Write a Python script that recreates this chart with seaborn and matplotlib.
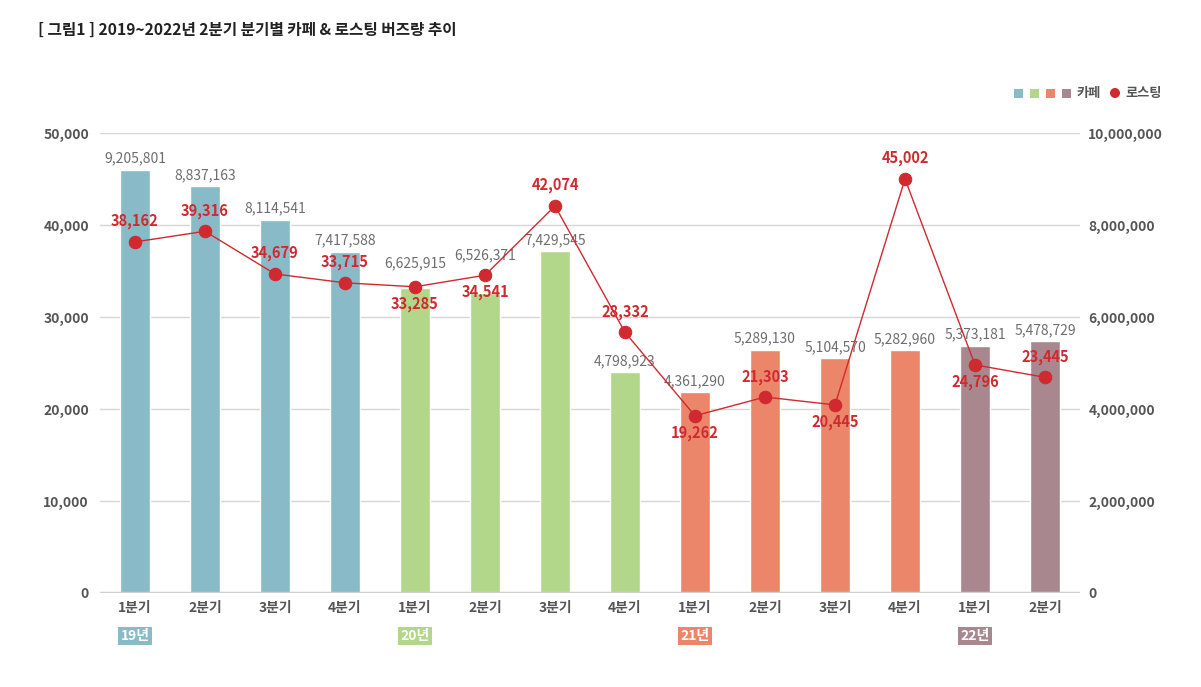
import matplotlib.pyplot as plt
import matplotlib.patches as mpatches
import pandas as pd
import seaborn as sns

quarters = ['1분기', '2분기', '3분기', '4분기', '1분기', '2분기', '3분기', '4분기',
            '1분기', '2분기', '3분기', '4분기', '1분기', '2분기']
years = ['19년'] * 4 + ['20년'] * 4 + ['21년'] * 4 + ['22년'] * 2
cafe = [9205801, 8837163, 8114541, 7417588, 6625915, 6526371, 7429545,
        4798923, 4361290, 5289130, 5104570, 5282960, 5373181, 5478729]
roasting = [38162, 39316, 34679, 33715, 33285, 34541, 42074,
            28332, 19262, 21303, 20445, 45002, 24796, 23445]

year_colors = {'19년': '#88bac7', '20년': '#b3d78a', '21년': '#eb866b', '22년': '#a8878f'}
red = '#d0292f'
# 로스팅 라벨 위치 (위/아래)
label_above = [True, True, True, True, False, False, True,
               True, False, True, False, True, False, True]
# 카페 라벨 추가 간격 (pt) - 점과 겹치는 곳만 위로
cafe_lift = [0, 0, 0, 0, 10, 19, 0, 0, 0, 0, 0, 0, 0, 0]

sns.set_theme(style='white')
plt.rcParams['font.family'] = ['Noto Sans CJK KR', 'DejaVu Sans']

df = pd.DataFrame({'pos': range(len(cafe)), 'quarter': quarters, 'year': years,
                   'cafe': cafe, 'roasting': roasting})

W, H = 1201, 687
fig = plt.figure(figsize=(W / 100, H / 100), dpi=100)
ax = fig.add_axes([100 / W, 1 - 593 / H, 980 / W, 460 / H])

# 카페 (막대, 오른쪽 축)
sns.barplot(data=df, x='pos', y='cafe', hue='year', palette=year_colors,
            dodge=False, width=0.44, legend=False, saturation=1, ax=ax)
ax.set_xlim(-0.5, len(cafe) - 0.5)
ax.set_ylim(0, 10_000_000)
ax.set_xticks(range(len(cafe)))
ax.set_xticklabels(quarters)
ax.grid(axis='y', color='#d6d6d6', lw=1)
ax.set_axisbelow(True)
ax.axhline(0, color='#d0d0d0', lw=2.5, zorder=3)
for s in ax.spines.values():
    s.set_visible(False)
ax.set_xlabel('')
ax.set_ylabel('')

for i, v in enumerate(cafe):
    ax.annotate(f'{v:,}', (i, v), xytext=(0, 3 + cafe_lift[i]), textcoords='offset points',
                ha='center', va='bottom', fontsize=10, color='#6e6e6e', fontweight='medium')

# 로스팅 (선, 왼쪽 축)
ax2 = ax.twinx()
sns.lineplot(data=df, x='pos', y='roasting', color=red, lw=1, marker='o',
             markersize=9, markeredgecolor=red, ax=ax2)
ax2.set_ylim(0, 50000)
ax2.set_yticks(range(0, 50001, 10000))
ax2.set_yticklabels([f'{v:,}' for v in range(0, 50001, 10000)])
ax2.yaxis.tick_left()
ax2.set_xlabel('')
ax2.set_ylabel('')
for s in ax2.spines.values():
    s.set_visible(False)
ax2.tick_params(axis='y', length=0, pad=8, labelsize=10, labelcolor='#555555')

# 오른쪽 축 눈금 (twinx 이후에 설정)
ax.yaxis.tick_right()
ax.set_yticks(range(0, 10_000_001, 2_000_000))
ax.set_yticklabels([f'{v:,}' for v in range(0, 10_000_001, 2_000_000)])
ax.tick_params(axis='y', length=0, pad=6, labelsize=10, labelcolor='#555555')
ax.tick_params(axis='x', length=0, pad=6, labelsize=10, labelcolor='#555555')
for lab in ax.get_xticklabels() + ax.get_yticklabels() + ax2.get_yticklabels():
    lab.set_fontweight('bold')

for i, v in enumerate(roasting):
    if label_above[i]:
        ax2.annotate(f'{v:,}', (i, v), xytext=(0, 9), textcoords='offset points',
                     ha='center', va='bottom', fontsize=10.5, color=red, fontweight='bold')
    else:
        ax2.annotate(f'{v:,}', (i, v), xytext=(0, -6.5), textcoords='offset points',
                     ha='center', va='top', fontsize=10.5, color=red, fontweight='bold')

# 연도 라벨
year_names = list(year_colors.keys())
for yr in year_names:
    first = years.index(yr)
    ax.annotate(yr, (first, 0), xytext=(0, -31), textcoords='offset points',
                ha='center', va='center', fontsize=10, color='white', fontweight='bold',
                bbox=dict(boxstyle='square,pad=0.15', fc=year_colors[yr], ec='none'))

# 제목
fig.text(38 / W, 1 - 30 / H, '[ 그림1 ] 2019~2022년 2분기 분기별 카페 & 로스팅 버즈량 추이',
         ha='left', va='center', fontsize=11.3, fontweight='bold', color='#222222')

# 범례
for k, yr in enumerate(year_names):
    fig.patches.append(mpatches.Rectangle(((1014 + 16 * k) / W, 1 - 98 / H), 9 / W, 9 / H,
                                          transform=fig.transFigure, fc=year_colors[yr], ec='none'))
fig.text(1077 / W, 1 - 93 / H, '카페', ha='left', va='center', fontsize=9.5,
         fontweight='bold', color='#555555')
fig.patches.append(mpatches.Ellipse((1115 / W, 1 - 93 / H), 10 / W, 10 / H,
                                    transform=fig.transFigure, fc=red, ec='none'))
fig.text(1125 / W, 1 - 93 / H, '로스팅', ha='left', va='center', fontsize=9.5,
         fontweight='bold', color='#555555')

fig.savefig('out.png', dpi=100)
